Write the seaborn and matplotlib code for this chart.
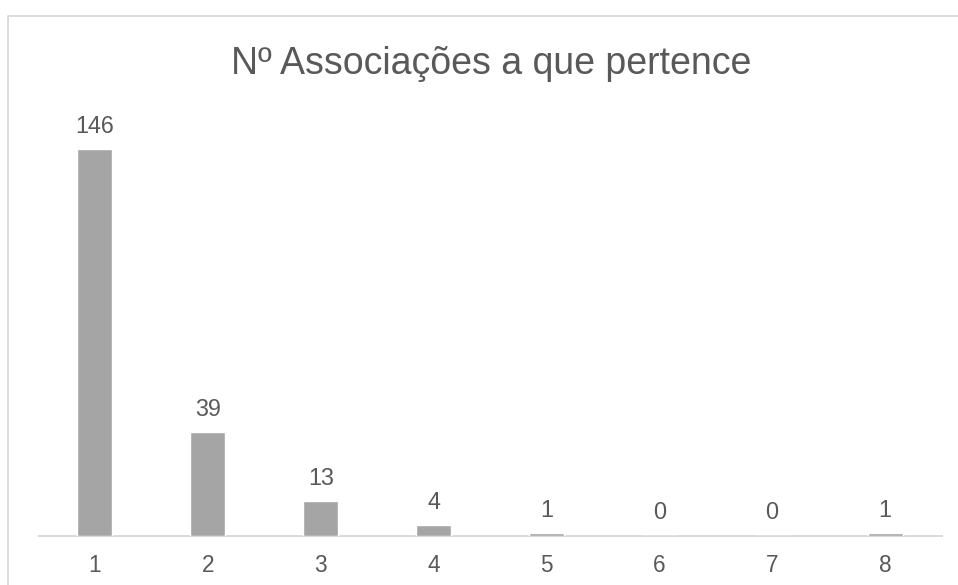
import matplotlib
matplotlib.use("Agg")
import matplotlib.pyplot as plt
import seaborn as sns
import pandas as pd
from matplotlib.lines import Line2D

categories = ["1", "2", "3", "4", "5", "6", "7", "8"]
values = [146, 39, 13, 4, 1, 0, 0, 1]
title = "Nº Associações a que pertence"

sns.set_style("white")
plt.rcParams["font.family"] = ["Liberation Sans", "DejaVu Sans"]

TEXT = "#595959"
BAR = "#a5a5a5"
LINE = "#d9d9d9"

df = pd.DataFrame({"cat": categories, "val": values})

fig = plt.figure(figsize=(9.58, 5.85), dpi=100)
W, H = 958, 585
left, right = 38.5, 941.5
bottom_px = 535.5
ymax = 160
top_px = bottom_px - (bottom_px - 149.3) / 146 * ymax
ax = fig.add_axes([left / W, 1 - bottom_px / H, (right - left) / W, (bottom_px - top_px) / H])

sns.barplot(data=df, x="cat", y="val", order=categories, color=BAR,
            width=0.31, ax=ax, saturation=1)
ax.set_xlim(-0.5, 7.5)
ax.set_ylim(0, ymax)
ax.set_xlabel("")
ax.set_ylabel("")
ax.set_yticks([])
for s in ["top", "left", "right"]:
    ax.spines[s].set_visible(False)
ax.spines["bottom"].set_color(LINE)
ax.spines["bottom"].set_linewidth(1.4)
ax.spines["bottom"].set_zorder(0.5)
ax.tick_params(axis="x", length=0, pad=13.5, labelsize=16.3, labelcolor=TEXT)

for cont in ax.containers:
    ax.bar_label(cont, labels=[str(v) for v in values], padding=8,
                 fontsize=16.8, color=TEXT)

fig.text(491.4 / W, 1 - 74 / H, title, ha="center", va="baseline",
         fontsize=27, color=TEXT)

# chart border (partially cropped)
x0 = 7.5 / W
yt = 1 - 16 / H
fig.add_artist(Line2D([x0, x0, 1.01], [-0.01, yt, yt], transform=fig.transFigure,
                      color=LINE, linewidth=1.3))

fig.savefig("out.png", dpi=100, facecolor="white")
